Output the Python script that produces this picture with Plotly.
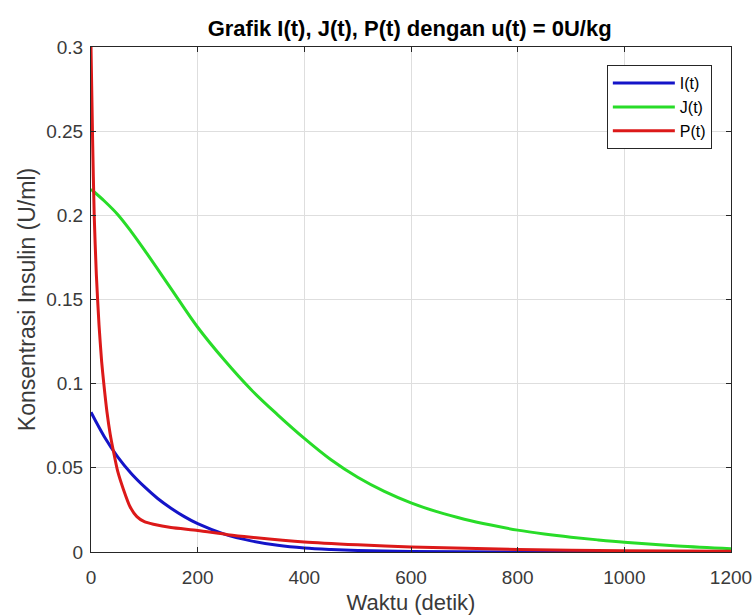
import plotly.graph_objects as go

# Time samples (detik) and values
t_I = [0, 25, 50, 75, 100, 125, 150, 175, 200, 250, 300, 350, 400, 450, 500, 600, 800, 1200]
I_vals = [0.083, 0.0685, 0.0565, 0.0468, 0.0388, 0.0318, 0.026, 0.021, 0.0168, 0.0106,
          0.0066, 0.004, 0.0024, 0.0015, 0.0009, 0.0003, 0.00005, 0.0]

t_J = [0, 25, 50, 75, 100, 150, 200, 250, 300, 350, 400, 450, 500, 550, 600, 650, 700, 750,
       800, 850, 900, 950, 1000, 1100, 1200]
J_vals = [0.2155, 0.2085, 0.2005, 0.1905, 0.1795, 0.1565, 0.1335, 0.114, 0.0965, 0.0815,
          0.0675, 0.0548, 0.0444, 0.036, 0.0292, 0.0238, 0.0195, 0.016, 0.013, 0.0107,
          0.0088, 0.0072, 0.0058, 0.0036, 0.002]

t_P = [0, 3, 6, 10, 15, 20, 24, 30, 36, 42, 50, 61, 73, 86, 100, 117, 150, 200, 256, 300,
       400, 500, 600, 800, 1000, 1200]
P_vals = [0.3, 0.245, 0.2, 0.165, 0.135, 0.113, 0.1, 0.083, 0.07, 0.06, 0.048, 0.037, 0.027,
          0.021, 0.018, 0.0165, 0.0145, 0.0128, 0.0103, 0.0088, 0.006, 0.0043, 0.003, 0.0015,
          0.0008, 0.0005]

x_ticks = [0, 200, 400, 600, 800, 1000, 1200]
y_ticks = [0, 0.05, 0.1, 0.15, 0.2, 0.25, 0.3]
y_tick_labels = ["0", "0.05", "0.1", "0.15", "0.2", "0.25", "0.3"]

fig = go.Figure()
fig.add_trace(go.Scatter(x=t_I, y=I_vals, mode="lines", name="I(t)",
                         line=dict(color="rgb(20,20,200)", width=3, shape="spline", smoothing=1)))
fig.add_trace(go.Scatter(x=t_J, y=J_vals, mode="lines", name="J(t)",
                         line=dict(color="rgb(40,220,40)", width=3, shape="spline", smoothing=1)))
fig.add_trace(go.Scatter(x=t_P, y=P_vals, mode="lines", name="P(t)",
                         line=dict(color="rgb(220,25,25)", width=3, shape="spline", smoothing=0.6)))

font_family = "Liberation Sans, Arial, sans-serif"
fig.update_layout(
    width=753, height=615,
    margin=dict(l=91, r=22, t=47, b=63),
    paper_bgcolor="white", plot_bgcolor="white",
    font=dict(family=font_family, size=19, color="#3a3a3a"),
    title=dict(text="<b>Grafik I(t), J(t), P(t) dengan u(t) = 0U/kg</b>",
               x=0.544, xanchor="center", y=0.954, yanchor="middle",
               font=dict(size=22, color="black", family=font_family)),
    showlegend=True,
    legend=dict(x=0.806, y=0.964, xanchor="left", yanchor="top",
                bgcolor="white", bordercolor="#262626", borderwidth=1,
                font=dict(size=16, color="black"), tracegroupgap=0, itemwidth=62),
    xaxis=dict(range=[0, 1200], tickvals=x_ticks, ticks="inside", ticklen=5,
               tickcolor="#262626", showline=True, linecolor="#262626", linewidth=1,
               mirror="ticks", showgrid=True, gridcolor="#dedede", gridwidth=1,
               zeroline=False, tickfont=dict(size=19), ticklabelstandoff=8,
               automargin=False,
               title=dict(text="Waktu (detik)", font=dict(size=22), standoff=9)),
    yaxis=dict(range=[0, 0.3], tickvals=y_ticks, ticktext=y_tick_labels, ticks="inside",
               ticklen=5, tickcolor="#262626", showline=True, linecolor="#262626",
               linewidth=1, mirror="ticks", showgrid=True, gridcolor="#dedede",
               gridwidth=1, zeroline=False, tickfont=dict(size=19), ticklabelstandoff=3,
               automargin=False,
               title=dict(text="Konsentrasi Insulin (U/ml)", font=dict(size=23), standoff=4)),
)

fig.write_html("out.html", config={"displayModeBar": False},
               post_script="document.body.style.margin='0';document.body.style.overflow='hidden';")
